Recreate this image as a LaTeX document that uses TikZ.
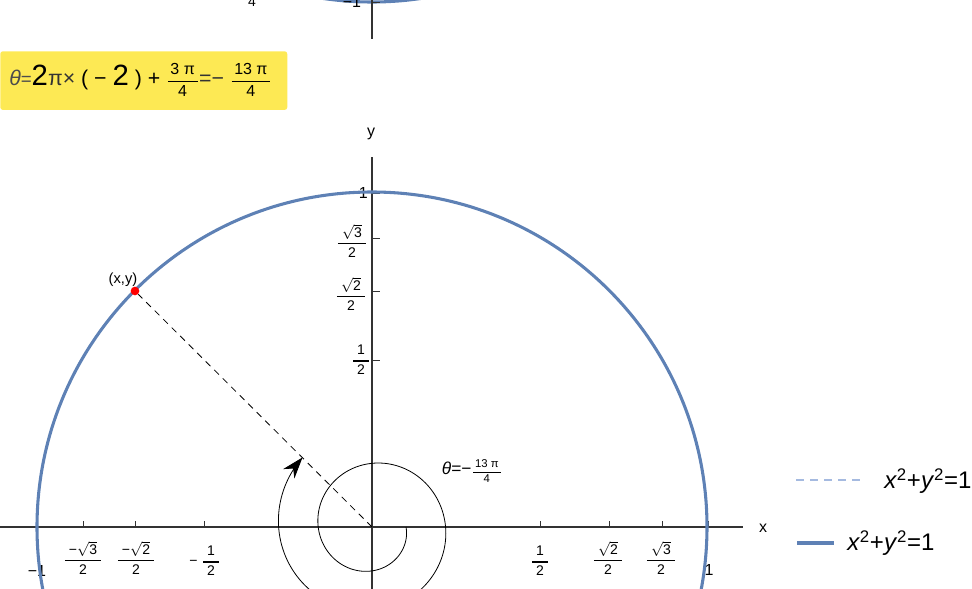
\documentclass[tikz,border=0pt]{standalone}
\usepackage{fontspec}
\setmainfont{Liberation Sans}
\usepackage{amsmath}
\usetikzlibrary{arrows.meta}
\definecolor{mblue}{RGB}{94,129,181}
\definecolor{lblue}{RGB}{165,186,224}
\definecolor{myyellow}{RGB}{253,233,84}
\newcommand{\fr}[2]{$\displaystyle\frac{\,\text{#1}\,}{\text{#2}}$}
\newcommand{\tfr}[2]{$\displaystyle\genfrac{}{}{0.9pt}{0}{\;\text{#1}\;}{\text{#2}}$}
\newcommand{\eqlab}{\textit{x}\textsuperscript{2}+\textit{y}\textsuperscript{2}=1}
\begin{document}
\begin{tikzpicture}[x=0.75pt,y=-0.75pt,
  axisline/.style={line width=0.8pt,black!80},
  tickmark/.style={line width=0.6pt,black!80},
  ticklab/.style={font=\fontsize{10.5pt}{11pt}\selectfont,inner sep=0pt},
  endlab/.style={font=\fontsize{12pt}{13pt}\selectfont,inner sep=0pt},
  curve/.style={line width=2.3pt,mblue},
  leglab/.style={font=\fontsize{18pt}{20pt}\selectfont,anchor=west,inner sep=0pt}]
\useasboundingbox (0,0) rectangle (972,589);
\clip (0,0) rectangle (972,589);
% remnant of previous plot at the top
\draw[curve] (372,-333) circle[radius=251.25pt];
\draw[axisline] (372,0) -- (372,39);
\draw[tickmark] (372,2) -- (380,2);
\node[endlab] (topm) at (352,2) {−1};
\node[ticklab] (top4) at (252,2) {4};
% yellow box
\node[fill=myyellow,rounded corners=2pt,minimum width=215.25pt,minimum height=44pt,anchor=north west,inner sep=0pt] (box) at (0,51) {};
\node[anchor=west,inner sep=0pt] (formula) at (9,80) {\fontsize{16pt}{18pt}\selectfont
  {\color{black!70}\textit{θ}}{\fontsize{14pt}{16pt}\selectfont\color{black!70}=}{\fontsize{22pt}{24pt}\selectfont 2}{\color{black!80}π×} ( − {\fontsize{22pt}{24pt}\selectfont 2} ) + {\fontsize{12pt}{14pt}\selectfont\fr{3 π}{4}}{\color{black!80}=−} {\fontsize{12pt}{14pt}\selectfont\fr{13 π}{4}}};
% axes
\coordinate (O) at (372,527);
\draw[axisline] (0,527) -- (743,527);
\draw[axisline] (372,157) -- (372,589);
\node[font=\fontsize{12pt}{14pt}\selectfont] (xl) at (763,528) {x};
\node[font=\fontsize{12pt}{14pt}\selectfont] (yl) at (371,134) {y};
% x ticks
\foreach \xx in {37,83,135,204,540,609,662,708} \draw[tickmark] (\xx,527) -- (\xx,521);
\node[endlab] (xm1) at (37,571) {−1};
\node[ticklab] (xa) at (83,558) {\tfr{−$\sqrt{\text{3}}$}{2}};
\node[ticklab] (xb) at (136,558) {\tfr{−$\sqrt{\text{2}}$}{2}};
\node[ticklab] (xc) at (205,561) {− \tfr{1}{2}};
\node[ticklab] (xd) at (540,561) {\tfr{1}{2}};
\node[ticklab] (xe) at (608,558) {\tfr{$\sqrt{\text{2}}$}{2}};
\node[ticklab] (xf) at (661,558) {\tfr{$\sqrt{\text{3}}$}{2}};
\node[endlab] (xp1) at (709,570) {1};
% y ticks
\foreach \yy in {193,238,291,360} \draw[tickmark] (372,\yy) -- (380,\yy);
\node[endlab,anchor=east] (yp1) at (368,193) {1};
\node[ticklab] (ya) at (352,241) {\tfr{$\sqrt{\text{3}}$}{2}};
\node[ticklab] (yb) at (351,294) {\tfr{$\sqrt{\text{2}}$}{2}};
\node[ticklab] (yc) at (361,360) {\tfr{1}{2}};
% unit circle
\draw[curve] (O) circle[radius=251.25pt];
% point and radius
\node[circle,fill=red,inner sep=0pt,minimum size=6.5pt] (P) at (135,291) {};
\node[font=\fontsize{11pt}{12pt}\selectfont,inner sep=0pt] (Pl) at (123,280) {(x,y)};
\draw[dashed,line width=0.6pt,dash pattern=on 5pt off 4pt] (O) -- (P);
% spiral
\begin{scope}[shift={(372,527)},yscale=-1]
\draw[line width=0.6pt,-{Stealth[length=16pt,width=11pt]}] plot[domain=0:585,samples=240,variable=\a] ({(34+6.3*\a*pi/180)*cos(-\a)},{(34+6.3*\a*pi/180)*sin(-\a)});
\end{scope}
\node[inner sep=0pt] (th) at (472,471) {\fontsize{13pt}{15pt}\selectfont\textit{θ}=−{\fontsize{8.5pt}{10pt}\selectfont\fr{13 π}{4}}};
% legend
\coordinate (l1a) at (796,480); \coordinate (l1b) at (866,480);
\draw[lblue,line width=1.1pt,dash pattern=on 6pt off 4.5pt] (l1a) -- (l1b);
\node[leglab] (leg1) at (884,481) {\eqlab};
\coordinate (l2a) at (797,543); \coordinate (l2b) at (834,543);
\draw[mblue,line width=2.4pt] (l2a) -- (l2b);
\node[leglab] (leg2) at (847,543) {\eqlab};
\end{tikzpicture}
\end{document}
